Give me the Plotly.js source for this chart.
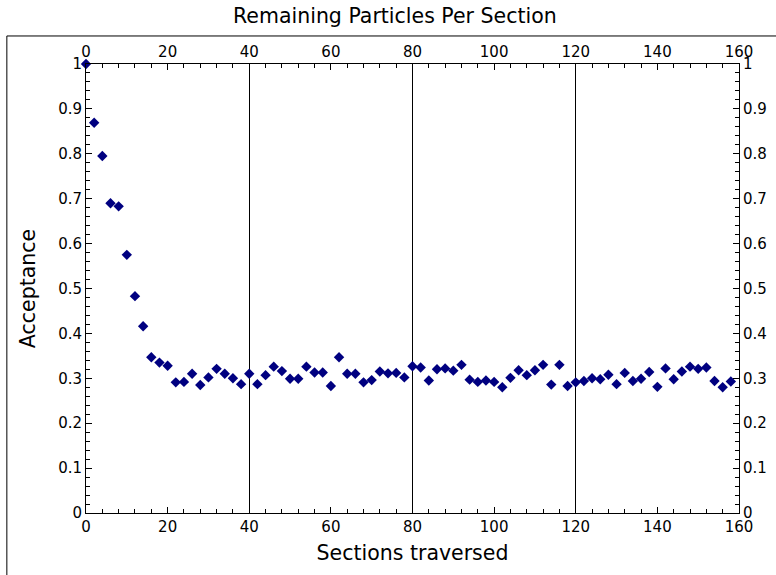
<!DOCTYPE html>
<html>
<head>
<meta charset="utf-8">
<script src="https://cdn.plot.ly/plotly-3.0.1.min.js"></script>
<style>html,body{margin:0;padding:0;background:#fff;}#chart{width:776px;height:575px;}</style>
</head>
<body>
<div id="chart"></div>
<script>
const sections = [0,2,4,6,8,10,12,14,16,18,20,22,24,26,28,30,32,34,36,38,
  40,42,44,46,48,50,52,54,56,58,60,62,64,66,68,70,72,74,76,78,
  80,82,84,86,88,90,92,94,96,98,100,102,104,106,108,110,112,114,116,118,
  120,122,124,126,128,130,132,134,136,138,140,142,144,146,148,150,152,154,156,158];
const acceptance = [1.000,0.869,0.795,0.690,0.683,0.575,0.483,0.416,0.347,0.335,
  0.328,0.291,0.292,0.310,0.285,0.302,0.321,0.310,0.300,0.287,
  0.310,0.287,0.307,0.326,0.316,0.299,0.299,0.326,0.313,0.313,
  0.283,0.347,0.310,0.310,0.291,0.296,0.315,0.311,0.312,0.302,
  0.327,0.324,0.295,0.320,0.322,0.317,0.330,0.297,0.292,0.295,
  0.292,0.280,0.301,0.318,0.307,0.318,0.330,0.286,0.330,0.283,
  0.291,0.294,0.300,0.298,0.308,0.287,0.312,0.294,0.299,0.314,
  0.281,0.322,0.298,0.315,0.326,0.321,0.324,0.294,0.280,0.293];
const gridX = [40, 80, 120];

const tickFont = {family: 'DejaVu Sans', size: 15, color: '#000'};
const axisCommon = {
  range: [0, 160], showline: true, linecolor: '#000', linewidth: 1,
  ticks: 'inside', ticklen: 6, tickwidth: 1, tickcolor: '#000',
  showgrid: false, zeroline: false, tickfont: tickFont, fixedrange: true
};
const minorX = {dtick: 4, ticks: 'inside', ticklen: 4, tickcolor: '#000', tickwidth: 1};
const minorY = {dtick: 0.02, ticks: 'inside', ticklen: 4, tickcolor: '#000', tickwidth: 1};

const traces = [
  {x: sections, y: acceptance, type: 'scatter', mode: 'markers',
   marker: {symbol: 'diamond', size: 8, color: '#000080', line: {width: 0}},
   cliponaxis: false, xaxis: 'x', yaxis: 'y', showlegend: false, hoverinfo: 'skip'},
  {x: [0], y: [0], type: 'scatter', mode: 'markers', marker: {opacity: 0},
   xaxis: 'x2', yaxis: 'y2', showlegend: false, hoverinfo: 'skip'},
  {x: [0], y: [0], type: 'scatter', mode: 'markers', marker: {opacity: 0},
   xaxis: 'x3', yaxis: 'y', showlegend: false, hoverinfo: 'skip'}
];

const layout = {
  width: 776, height: 575,
  margin: {l: 86, r: 37, t: 64, b: 62},
  paper_bgcolor: '#fff', plot_bgcolor: '#fff',
  font: {family: 'DejaVu Sans', color: '#000'},
  title: {text: 'Remaining Particles Per Section', font: {family: 'DejaVu Sans', size: 20.5, color: '#000'},
          xref: 'paper', x: 0.473, xanchor: 'center', yref: 'container', y: 0.973, yanchor: 'middle'},
  xaxis: Object.assign({}, axisCommon, {
    dtick: 20, tick0: 0, side: 'bottom', minor: minorX,
    title: {text: 'Sections traversed', font: {family: 'DejaVu Sans', size: 20.5, color: '#000'}, standoff: 10}
  }),
  xaxis2: Object.assign({}, axisCommon, {
    dtick: 20, tick0: 0, side: 'top', overlaying: 'x', matches: 'x', minor: minorX
  }),
  xaxis3: {
    range: [0, 160], overlaying: 'x', matches: 'x', tickvals: gridX, showgrid: true,
    gridcolor: '#000', gridwidth: 1, showticklabels: false, ticks: '', showline: false,
    zeroline: false, fixedrange: true
  },
  yaxis: Object.assign({}, axisCommon, {
    range: [0, 1], dtick: 0.1, tick0: 0, side: 'left', minor: minorY,
    title: {text: 'Acceptance', font: {family: 'DejaVu Sans', size: 20.5, color: '#000'}, standoff: 16}
  }),
  yaxis2: Object.assign({}, axisCommon, {
    range: [0, 1], dtick: 0.1, tick0: 0, side: 'right', overlaying: 'y', matches: 'y', minor: minorY
  }),
  shapes: [
    {type: 'rect', xref: 'paper', yref: 'paper', x0: -0.1212, x1: 1.06, y0: -0.14, y1: 1.0624,
     line: {color: '#000', width: 1}, fillcolor: 'rgba(0,0,0,0)', layer: 'below'}
  ]
};

Plotly.newPlot('chart', traces, layout, {staticPlot: true, displayModeBar: false});
</script>
</body>
</html>
